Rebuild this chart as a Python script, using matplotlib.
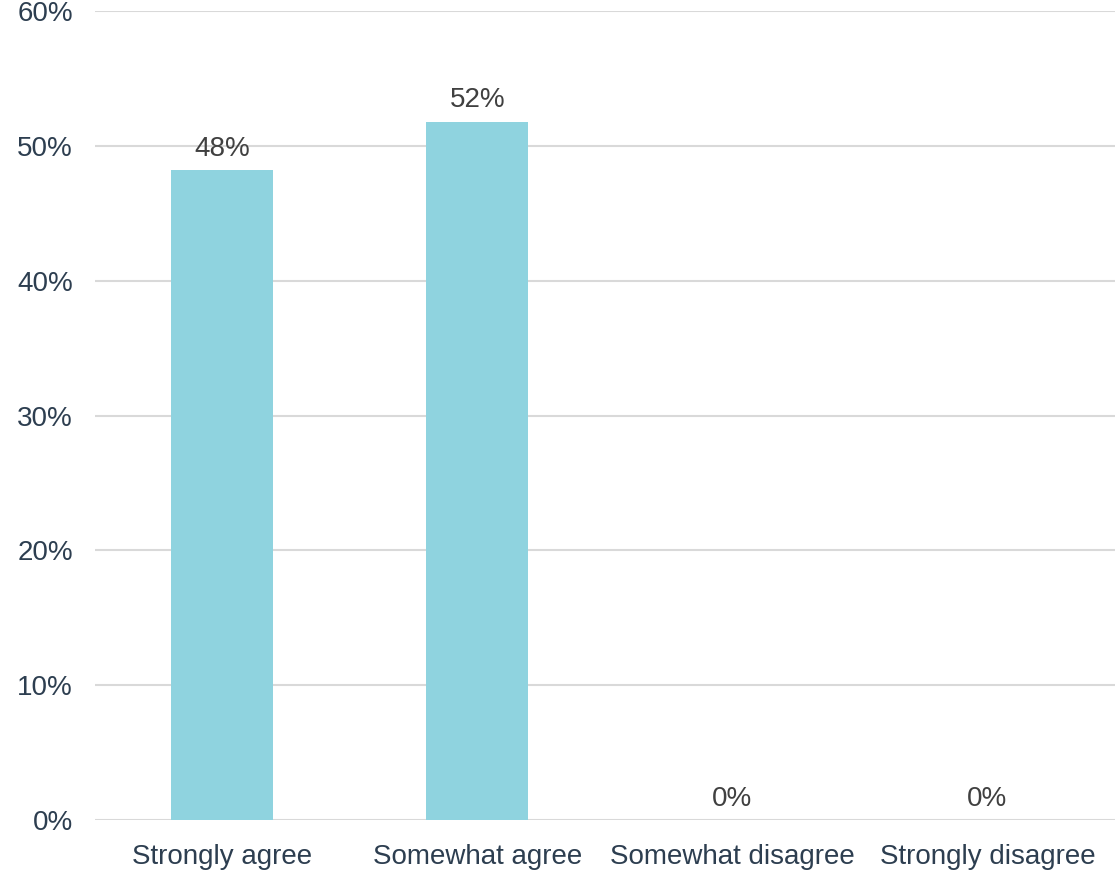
import matplotlib.pyplot as plt
from matplotlib.ticker import PercentFormatter

plt.rcParams['font.family'] = ['Liberation Sans', 'DejaVu Sans']

categories = ['Strongly agree', 'Somewhat agree', 'Somewhat disagree', 'Strongly disagree']
shares = [48.2, 51.8, 0, 0]
labels = ['48%', '52%', '0%', '0%']

fig = plt.figure(figsize=(11.15, 8.72), dpi=100)
ax = fig.add_axes([0.0852, 0.0596, 0.9148, 0.9278])

xs = range(len(categories))
ax.bar(xs, shares, width=0.4, color='#8fd3df', zorder=2)

for x, v, lab in zip(xs, shares, labels):
    ax.annotate(lab, (x, v), xytext=(0, 6), textcoords='offset points',
                ha='center', va='bottom', fontsize=20, color='#404040')

ax.set_xlim(-0.5, 3.5)
ax.set_ylim(0, 60)
ax.set_yticks(range(0, 61, 10))
ax.yaxis.set_major_formatter(PercentFormatter(decimals=0))
ax.set_xticks(list(xs))
ax.set_xticklabels(categories)

ax.grid(axis='y', color='#d9d9d9', linewidth=1.5, zorder=0)
ax.set_axisbelow(True)
for s in ax.spines.values():
    s.set_visible(False)
ax.tick_params(axis='both', length=0, labelsize=20, labelcolor='#2d3e50')
ax.tick_params(axis='y', pad=16)
ax.tick_params(axis='x', pad=17)

fig.savefig('out.png', dpi=100)
